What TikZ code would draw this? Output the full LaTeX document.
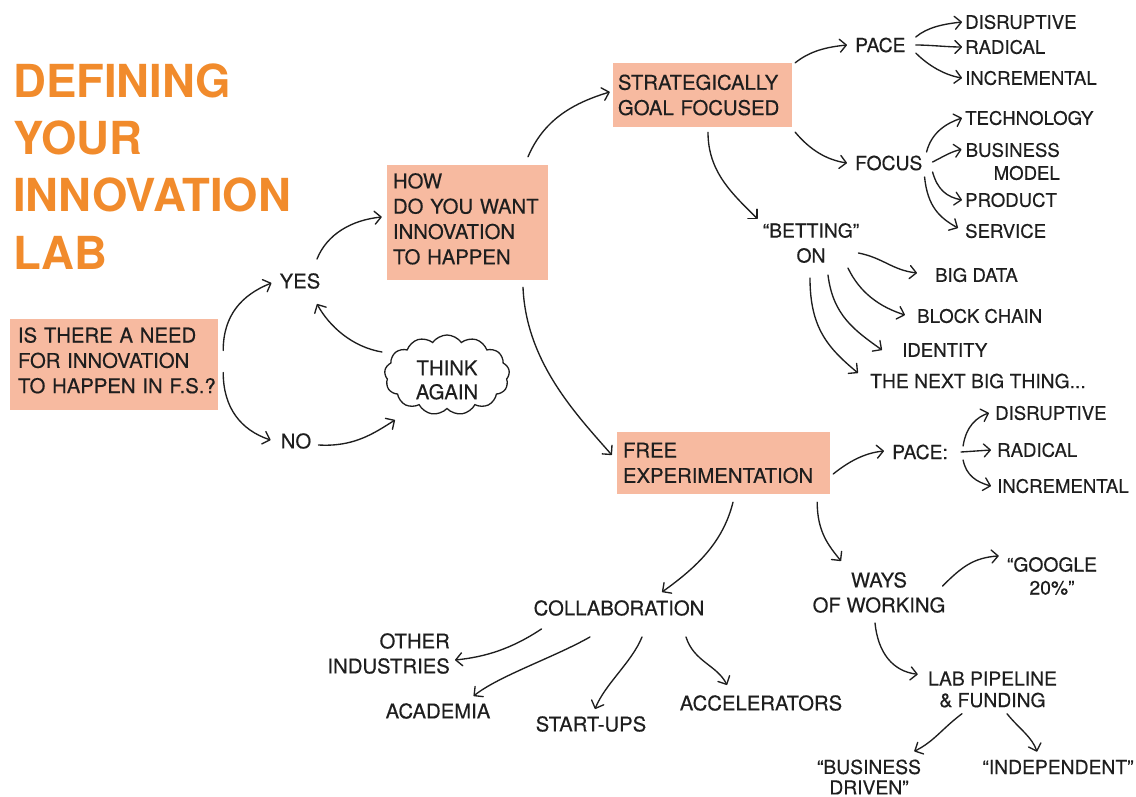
\documentclass[tikz,border=0pt]{standalone}
\usepackage{fontspec}
\setmainfont{TeX Gyre Heros}[FakeBold=0.35, BoldFeatures={FakeBold=0}]
\usetikzlibrary{arrows.meta,shapes.symbols,calc}
\definecolor{ink}{HTML}{1E1E1E}
\definecolor{labor}{HTML}{F18B2C}
\definecolor{boxfill}{HTML}{F7BAA0}

\begin{document}
\begin{tikzpicture}[x=1pt,y=-1pt,
  txt/.style={inner sep=0pt, text=ink, font=\fontsize{20.3}{25}\selectfont},
  mid/.style={inner sep=0pt, text=ink, font=\fontsize{19.3}{24}\selectfont},
  leaf/.style={inner sep=0pt, text=ink, font=\fontsize{18.6}{23}\selectfont},
  qbox/.style={fill=boxfill, text=ink, font=\fontsize{20.3}{25.3}\selectfont, align=left, inner ysep=0pt},
  arr/.style={draw=ink, line width=1.35pt, line cap=round,
              -{Straight Barb[length=6.5pt,width=13pt,round]}},
]
\useasboundingbox (0,0) rectangle (1136,797);

% heading
\node[anchor=north west, inner sep=0pt, text=labor, align=left,
      font=\fontsize{45.5}{57.3}\selectfont\bfseries] (title) at (13,63.3)
      {DEFINING\\YOUR\\INNOVATION\\LAB};

% question boxes
\node[qbox, text width=192pt, inner xsep=8pt, minimum height=91pt] (need) at (114,364.5)
  {\mbox{IS THERE A NEED}\\\mbox{FOR INNOVATION}\\\mbox{TO HAPPEN IN F.S.?}\rule[-8.5pt]{0pt}{0pt}};
\node[qbox, text width=149pt, inner xsep=6pt, minimum height=115pt] (how) at (467.5,222.5)
  {HOW\\\mbox{DO YOU WANT}\\INNOVATION\\\mbox{TO HAPPEN}\rule[-7.6pt]{0pt}{0pt}};
\node[qbox, text width=169pt, inner xsep=5pt, minimum height=64pt] (strat) at (702.5,95)
  {STRATEGICALLY\\\mbox{GOAL FOCUSED}};
\node[qbox, text width=201pt, inner xsep=6pt, minimum height=62pt] (free) at (723.5,463)
  {FREE\\EXPERIMENTATION};

% yes / no / think again
\node[txt] (yes) at (300,281) {YES};
\node[txt] (no) at (296,441) {NO};
\node[cloud, cloud puffs=13, cloud puff arc=110, aspect=1.6, draw=ink, line width=1.3pt,
      minimum width=125pt, minimum height=80pt, inner sep=0pt] (cloud) at (447,375) {};
\node[txt, align=center, font=\fontsize{20.3}{24}\selectfont] (think) at (447,380) {THINK\\AGAIN};

% strategic branch
\node[mid, anchor=west] (pace1) at (855,45) {PACE};
\node[mid, anchor=west] (focus) at (855,163) {FOCUS};
\node[leaf, anchor=west] (dis1) at (965,22) {DISRUPTIVE};
\node[leaf, anchor=west] (rad1) at (965,47) {RADICAL};
\node[leaf, anchor=west] (inc1) at (965,78) {INCREMENTAL};
\node[leaf, anchor=west] (tech) at (965,118) {TECHNOLOGY};
\node[leaf, anchor=east, align=right] (busmod) at (1060,161.5) {BUSINESS\\MODEL};
\node[leaf, anchor=west] (prod) at (965,200) {PRODUCT};
\node[leaf, anchor=west] (serv) at (965,231) {SERVICE};
\node[mid, align=center, font=\fontsize{19.3}{25}\selectfont] (bet) at (811,243) {“BETTING”\\ON};
\node[leaf, anchor=west] (bigdata) at (935,275) {BIG DATA};
\node[leaf, anchor=west] (chain) at (917,316) {BLOCK CHAIN};
\node[leaf, anchor=west] (ident) at (902,350) {IDENTITY};
\node[mid, anchor=west] (next) at (870,381) {THE NEXT BIG THING...};

% free experimentation branch
\node[mid, anchor=west] (pace2) at (892,452) {PACE:};
\node[leaf, anchor=west] (dis2) at (995,413) {DISRUPTIVE};
\node[leaf, anchor=west] (rad2) at (997,450) {RADICAL};
\node[leaf, anchor=west] (inc2) at (997,486) {INCREMENTAL};
\node[txt] (collab) at (619,608) {COLLABORATION};
\node[txt, anchor=east, align=right] (other) at (450,653.5) {OTHER\\INDUSTRIES};
\node[txt] (acad) at (438,711) {ACADEMIA};
\node[txt] (startups) at (591,724) {START-UPS};
\node[txt] (accel) at (761,703) {ACCELERATORS};
\node[txt, align=center] (ways) at (879,592.5) {WAYS\\OF WORKING};
\node[mid, align=center, font=\fontsize{19.3}{23}\selectfont] (google) at (1052,576) {“GOOGLE\\20\%”};
\node[mid, align=center, font=\fontsize{19.3}{21.5}\selectfont] (lab) at (992.5,689.5) {LAB PIPELINE\\\& FUNDING};
\node[mid, align=center, font=\fontsize{19.3}{20.5}\selectfont] (busdrv) at (869,777) {“BUSINESS\\DRIVEN”};
\node[mid] (indep) at (1058,767) {“INDEPENDENT”};

% connectors: first question
\draw[arr] ($(need.east)+(5,-14)$) .. controls +(0,-35) and +(-30,12) .. ($(yes.west)+(-8,2)$);
\draw[arr] ($(need.east)+(5,8)$) .. controls +(0,35) and +(-30,-10) .. ($(no.west)+(-10,-1)$);
\draw[arr] ($(no.east)+(7,4)$) .. controls +(35,2) and +(-22,14) .. ($(cloud.center)+(-52,45)$);
\draw[arr] ($(cloud.center)+(-65,-23)$) .. controls +(-30,-5) and +(12,22) .. ($(yes.south)+(17,15)$);
\draw[arr] ($(yes.north)+(17,-14)$) .. controls +(10,-25) and +(-30,3) .. ($(how.west)+(-5,-5.5)$);

% connectors: how
\draw[arr] ($(how.north)+(60.5,-8)$) .. controls +(15,-35) and +(-40,12) .. ($(strat.west)+(-3,-3)$);
\draw[arr] ($(how.south)+(55.5,7)$) .. controls +(3,75) and +(-35,-40) .. ($(free.west)+(-5,-8)$);

% connectors: strategic
\draw[arr] ($(strat.north east)+(3,0)$) .. controls +(15,-12) and +(-20,2) .. ($(pace1.west)+(-8,0)$);
\draw[arr] ($(strat.south east)+(3,5)$) .. controls +(15,18) and +(-20,-3) .. ($(focus.west)+(-8,0)$);
\draw[arr] ($(strat.south)+(5.5,5)$) .. controls +(0,40) and +(-25,-25) .. ($(bet.north west)+(-5,-4)$);
\draw[arr] ($(pace1.east)+(10,-8)$) .. controls +(12,-10) and +(-18,2) .. ($(dis1.west)+(-3,0)$);
\draw[arr] ($(pace1.east)+(10,0)$) .. controls +(15,0) and +(-15,0) .. ($(rad1.west)+(-3,0)$);
\draw[arr] ($(pace1.east)+(10,8)$) .. controls +(12,12) and +(-18,-3) .. ($(inc1.west)+(-3,0)$);
\draw[arr] ($(focus.east)+(4,-11)$) .. controls +(5,-20) and +(-15,5) .. ($(tech.west)+(-3,0)$);
\draw[arr] ($(focus.east)+(10,-1)$) .. controls +(10,-5) and +(-10,2) .. ($(busmod.north west)+(-4,6.7)$);
\draw[arr] ($(focus.east)+(10,9)$) .. controls +(5,18) and +(-15,-3) .. ($(prod.west)+(-3,0)$);
\draw[arr] ($(focus.east)+(2,14)$) .. controls +(3,30) and +(-18,-10) .. ($(serv.west)+(-7,-3)$);
\draw[arr] ($(bet.east)+(-1,10)$) .. controls +(25,5) and +(-25,-3) .. ($(bigdata.west)+(-18,-2)$);
\draw[arr] ($(bet.south)+(37,5)$) .. controls +(12,25) and +(-25,-8) .. ($(chain.west)+(-12,-1)$);
\draw[arr] ($(bet.south)+(17,12)$) .. controls +(5,40) and +(-28,-20) .. ($(ident.west)+(-20,0)$);
\draw[arr] ($(bet.south)+(-1,15)$) .. controls +(0,50) and +(-30,-25) .. ($(next.west)+(-12,-8)$);

% connectors: free experimentation
\draw[arr] ($(free.east)+(3,11)$) .. controls +(15,-12) and +(-20,2) .. ($(pace2.west)+(-8,-1)$);
\draw[arr] ($(pace2.east)+(15,-6)$) .. controls +(3,-20) and +(-12,4) .. ($(dis2.west)+(-6,0)$);
\draw[arr] ($(pace2.east)+(13,0)$) -- ($(rad2.west)+(-6,0)$);
\draw[arr] ($(pace2.east)+(15,8)$) .. controls +(3,15) and +(-15,-4) .. ($(inc2.west)+(-6,0)$);
\draw[arr] ($(free.south)+(9.5,8)$) .. controls +(-10,40) and +(35,-25) .. ($(collab.north)+(43,-8)$);
\draw[arr] ($(free.south east)+(-13,8)$) .. controls +(0,30) and +(-12,-15) .. ($(ways.north)+(-38,-11)$);
\draw[arr] ($(collab.south west)+(8,13)$) .. controls +(-30,20) and +(30,-3) .. ($(other.east)+(5,6.5)$);
\draw[arr] ($(collab.south)+(-29,21)$) .. controls +(-35,20) and +(25,-20) .. ($(acad.north east)+(-17,-7)$);
\draw[arr] ($(collab.south)+(23,21)$) .. controls +(-10,25) and +(10,-25) .. ($(startups.north)+(4,-7)$);
\draw[arr] ($(collab.south)+(67,21)$) .. controls +(8,25) and +(-10,-20) .. ($(accel.north)+(-34,-10)$);
\draw[arr] ($(ways.north east)+(-3,14)$) .. controls +(20,-20) and +(-25,2) .. ($(google.north west)+(-8,-1)$);
\draw[arr] ($(ways.south)+(-4,10)$) .. controls +(3,30) and +(-25,-3) .. ($(lab.north west)+(-10,3)$);
\draw[arr] ($(lab.south)+(-30.5,6)$) .. controls +(-20,15) and +(20,-10) .. ($(busdrv.north east)+(-7,-8)$);
\draw[arr] ($(lab.south)+(14.5,6)$) .. controls +(12,15) and +(-5,-15) .. ($(indep.north)+(-21,-8)$);
\end{tikzpicture}
\end{document}
